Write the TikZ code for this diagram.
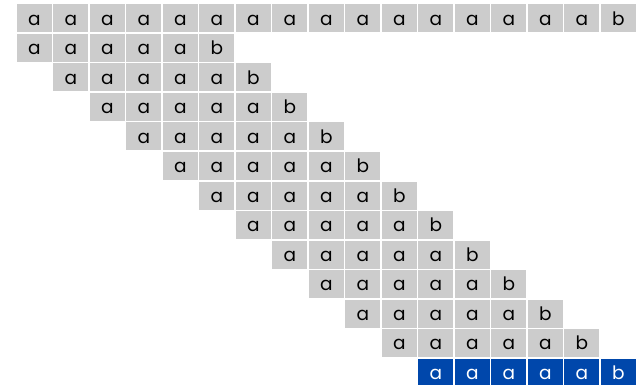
\documentclass[tikz,border=0pt]{standalone}
\usepackage{fontspec}
\setmainfont{Poppins}
\definecolor{cellgray}{HTML}{CCCCCC}
\definecolor{cellblue}{HTML}{0047AB}
\begin{document}
\begin{tikzpicture}[x=1pt,y=-1pt,
  cell/.style={minimum width=35pt,minimum height=28pt,inner sep=0pt,
    fill=cellgray,text=black,anchor=north west,
    font=\fontsize{18.5}{18.5}\selectfont,text height=13.6pt,text depth=0pt},
  bluecell/.style={cell,fill=cellblue,text=white}]
\useasboundingbox (0,0) rectangle (637,385);
% top row
\foreach \c in {0,...,15}
  \node[cell] (r0c\c) at ({16.7+36.5*\c},4.3) {a};
\node[cell] (r0c16) at ({16.7+36.5*16},4.3) {b};
% staircase rows
\foreach \r in {1,...,11}{
  \foreach \k in {0,...,4}
    \node[cell] (r\r c\k) at ({16.7+36.5*(\r-1+\k)},{4.3+29.5*\r}) {a};
  \node[cell] (r\r c5) at ({16.7+36.5*(\r+4)},{4.3+29.5*\r}) {b};
}
% highlighted last row
\foreach \k in {0,...,4}
  \node[bluecell] (r12c\k) at ({16.7+36.5*(11+\k)},{4.3+29.5*12}) {a};
\node[bluecell] (r12c5) at ({16.7+36.5*16},{4.3+29.5*12}) {b};
\end{tikzpicture}
\end{document}
